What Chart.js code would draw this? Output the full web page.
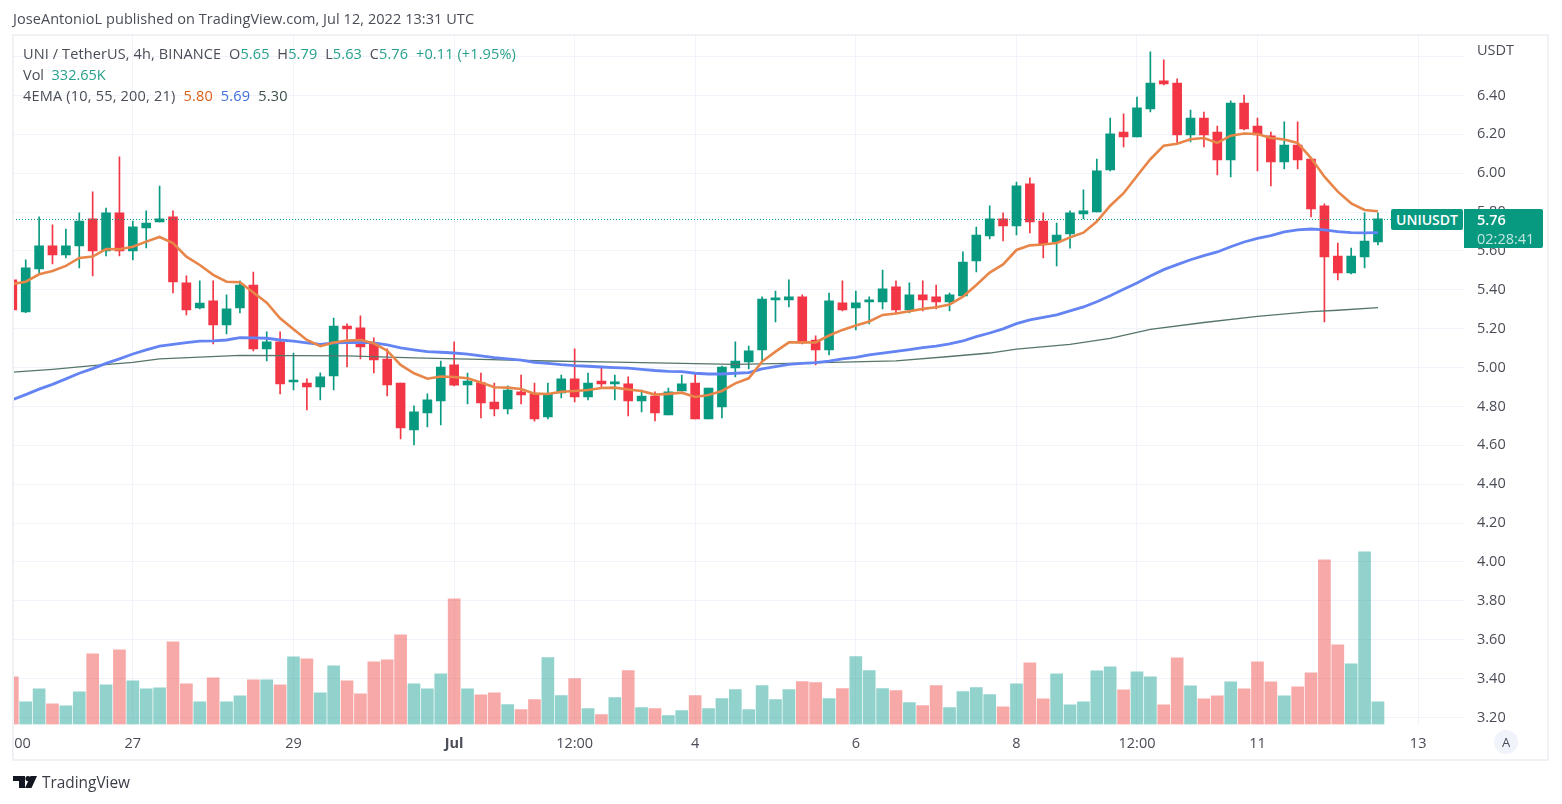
<!DOCTYPE html>
<html>
<head>
<meta charset="utf-8">
<title>UNI / TetherUS</title>
<script src="https://cdn.jsdelivr.net/npm/chart.js@4"></script>
<style>
    html, body { margin: 0; padding: 0; background: #fff; }
    #page { position: relative; width: 1562px; height: 804px; overflow: hidden; font-family: "Open Sans", sans-serif; color: #4a4d57; }
    canvas { position: absolute; left: 0; top: 0; }
    #frame { position: absolute; left: 12px; top: 34px; width: 1533px; height: 723px; border: 2px solid #f0f1f4; }
    #mask { position: absolute; left: 0; top: 730px; width: 14px; height: 26px; background: #fff; }
    .txt { position: absolute; white-space: pre; font-size: 14.5px; line-height: 18px; }
    .up { color: #26a08c; }
    #published { left: 13px; top: 10px; letter-spacing: 0.06px; }
    #ohlc { left: 23px; top: 45px; letter-spacing: 0.12px; }
    #vol { left: 23px; top: 66px; }
    #ema { left: 23px; top: 87px; letter-spacing: 0.2px; }
    #unit { left: 1477px; top: 41px; }
    #badge { position: absolute; left: 1391px; top: 209px; width: 72px; height: 21px; background: #089981; color: #fff; border-radius: 2px; text-align: center; font-size: 14px; line-height: 21px; font-weight: 600; }
    #priceBox { position: absolute; left: 1464px; top: 209px; width: 79px; height: 39px; background: #089981; border-radius: 0 2px 2px 0; color: #fff; }
    #priceBox div { padding-left: 13px; font-size: 14.5px; line-height: 21px; font-weight: 600; }
    #priceBox .count { color: #c2e6e0; line-height: 17px; font-weight: 400; }
    #auto { position: absolute; left: 1494px; top: 730px; width: 24px; height: 24px; border-radius: 12px; background: #f0f3fa; text-align: center; font-size: 13px; line-height: 24px; }
    #logo { position: absolute; left: 13px; top: 776px; }
    #brand { left: 42px; top: 774px; font-size: 15.4px; color: #3b3e47; }
</style>
</head>
<body>
<div id="page">
    <canvas id="chart" width="1562" height="804"></canvas>
    <div id="mask"></div>
    <div id="frame"></div>
    <div class="txt" id="published">JoseAntonioL published on TradingView.com, Jul 12, 2022 13:31 UTC</div>
    <div class="txt" id="ohlc">UNI / TetherUS, 4h, BINANCE  O<span class="up">5.65</span>  H<span class="up">5.79</span>  L<span class="up">5.63</span>  C<span class="up">5.76</span>  <span class="up">+0.11 (+1.95%)</span></div>
    <div class="txt" id="vol">Vol  <span class="up">332.65K</span></div>
    <div class="txt" id="ema">4EMA (10, 55, 200, 21)  <span style="color:#e0601c">5.80</span>  <span style="color:#3f6fdc">5.69</span>  <span style="color:#3d4f4a">5.30</span></div>
    <div class="txt" id="unit">USDT</div>
    <div id="badge">UNIUSDT</div>
    <div id="priceBox"><div>5.76</div><div class="count">02:28:41</div></div>
    <div id="auto">A</div>
    <svg id="logo" width="24" height="12" viewBox="0 0 24 12"><path d="M0 0h12v12H6V5H0z M24 0 18.5 12H12L17.5 0z" fill="#131722"/><circle cx="15" cy="2.6" r="2.6" fill="#131722"/></svg>
    <div class="txt" id="brand">TradingView</div>
</div>

<script>
"use strict";

var opens = [5.451, 5.286, 5.508, 5.626, 5.580, 5.626, 5.765, 5.600, 5.796, 5.600, 5.718, 5.749, 5.775, 5.436, 5.307, 5.343, 5.219, 5.307, 5.425, 5.096, 5.132, 4.926, 4.921, 4.901, 4.957,
    5.214, 5.204, 5.122, 5.044, 4.921, 4.679, 4.767, 4.828, 5.014, 4.911, 4.923, 4.823, 4.787, 4.875, 4.865, 4.746, 4.870, 4.942, 4.849, 4.931, 4.916, 4.916, 4.828, 4.854, 4.756, 4.880,
    4.921, 4.736, 4.798, 4.998, 5.029, 5.091, 5.348, 5.348, 5.364, 5.142, 5.091, 5.333, 5.307, 5.338, 5.338, 5.415, 5.297, 5.374, 5.364, 5.338, 5.369, 5.549, 5.677, 5.765, 5.729,
    5.945, 5.754, 5.646, 5.688, 5.790, 5.801, 6.017, 6.212, 6.187, 6.331, 6.475, 6.464, 6.197, 6.284, 6.212, 6.068, 6.361, 6.243, 6.192, 6.058, 6.145, 6.073, 5.832, 5.574, 5.487, 5.569, 5.646];
var highs = [5.460, 5.554, 5.775, 5.734, 5.713, 5.796, 5.904, 5.821, 6.084, 5.754, 5.806, 5.934, 5.806, 5.472, 5.446, 5.446, 5.374, 5.446, 5.492, 5.184, 5.184, 5.075, 4.942, 4.973, 5.255,
    5.225, 5.266, 5.153, 5.096, 4.921, 4.803, 4.865, 5.034, 5.132, 4.972, 4.972, 4.921, 4.906, 4.962, 4.921, 4.921, 4.962, 5.096, 4.972, 5.003, 4.962, 4.952, 4.885, 4.875, 4.895, 4.962,
    4.972, 4.895, 5.008, 5.132, 5.111, 5.364, 5.394, 5.451, 5.374, 5.163, 5.384, 5.446, 5.394, 5.364, 5.502, 5.446, 5.436, 5.446, 5.425, 5.384, 5.595, 5.723, 5.832, 5.796, 5.955,
    5.976, 5.796, 5.744, 5.806, 5.914, 6.073, 6.284, 6.305, 6.392, 6.624, 6.583, 6.485, 6.325, 6.315, 6.243, 6.372, 6.402, 6.284, 6.212, 6.264, 6.264, 6.073, 5.842, 5.641, 5.615, 5.796, 5.796];
var lows = [5.290, 5.283, 5.482, 5.533, 5.564, 5.513, 5.472, 5.574, 5.574, 5.554, 5.616, 5.749, 5.384, 5.271, 5.302, 5.122, 5.173, 5.281, 5.086, 5.034, 4.865, 4.885, 4.782, 4.834, 4.885,
    5.003, 5.045, 4.972, 4.854, 4.633, 4.602, 4.695, 4.705, 4.906, 4.813, 4.741, 4.751, 4.762, 4.813, 4.725, 4.736, 4.844, 4.823, 4.834, 4.895, 4.834, 4.751, 4.772, 4.726, 4.756, 4.880,
    4.736, 4.736, 4.741, 4.952, 4.993, 5.034, 5.235, 5.312, 5.122, 5.014, 5.065, 5.291, 5.194, 5.225, 5.302, 5.281, 5.281, 5.291, 5.302, 5.291, 5.369, 5.492, 5.662, 5.652, 5.682,
    5.693, 5.564, 5.523, 5.615, 5.765, 5.801, 6.012, 6.135, 6.187, 6.315, 6.454, 6.156, 6.161, 6.135, 5.991, 5.981, 6.223, 6.012, 5.934, 6.022, 6.022, 5.775, 5.235, 5.451, 5.482, 5.513, 5.631];
var closes = [5.297, 5.513, 5.626, 5.580, 5.626, 5.754, 5.600, 5.796, 5.600, 5.724, 5.744, 5.765, 5.441, 5.297, 5.332, 5.219, 5.302, 5.425, 5.096, 5.132, 4.916, 4.931, 4.901, 4.952, 5.214,
    5.199, 5.106, 5.039, 4.911, 4.690, 4.772, 4.834, 5.003, 4.909, 4.931, 4.818, 4.787, 4.885, 4.859, 4.736, 4.865, 4.942, 4.849, 4.921, 4.916, 4.921, 4.828, 4.854, 4.767, 4.875, 4.916,
    4.736, 4.895, 5.003, 5.034, 5.086, 5.353, 5.357, 5.364, 5.127, 5.091, 5.343, 5.297, 5.333, 5.343, 5.405, 5.297, 5.374, 5.348, 5.338, 5.374, 5.543, 5.682, 5.765, 5.729, 5.935,
    5.749, 5.636, 5.682, 5.796, 5.806, 6.012, 6.202, 6.187, 6.336, 6.464, 6.459, 6.197, 6.284, 6.197, 6.068, 6.361, 6.228, 6.197, 6.058, 6.145, 6.068, 5.816, 5.569, 5.487, 5.574, 5.651, 5.765];

// volume in thousands
var volumes = [699, 333, 523, 303, 274, 479, 1037, 582, 1095, 641, 523, 538, 1213, 597, 333, 685, 333, 421, 655, 655, 582, 993, 963, 465, 861,
    641, 450, 919, 949, 1315, 597, 523, 743, 1844, 523, 435, 465, 293, 220, 367, 983, 425, 675, 235, 147, 396, 792, 249, 235, 132, 205,
    425, 235, 381, 513, 220, 572, 367, 513, 631, 616, 381, 528, 998, 792, 528, 499, 323, 279, 572, 249, 484, 543, 440, 259, 597,
    905, 377, 743, 289, 333, 787, 846, 509, 773, 699, 289, 978, 567, 377, 421, 626, 523, 919, 626, 421, 553, 758, 2416, 1169, 890, 2533, 333];

var emaFast = [5.430, 5.442, 5.480, 5.497, 5.523, 5.564, 5.571, 5.610, 5.609, 5.622, 5.648, 5.672, 5.640, 5.571, 5.528, 5.477, 5.442, 5.439, 5.386, 5.334, 5.254, 5.197, 5.142, 5.110, 5.129,
    5.139, 5.142, 5.125, 5.087, 5.014, 4.971, 4.943, 4.954, 4.952, 4.945, 4.923, 4.899, 4.897, 4.890, 4.866, 4.864, 4.876, 4.880, 4.885, 4.895, 4.897, 4.887, 4.880, 4.861, 4.865, 4.871,
    4.849, 4.859, 4.880, 4.919, 4.945, 5.031, 5.082, 5.130, 5.130, 5.129, 5.165, 5.194, 5.216, 5.237, 5.271, 5.278, 5.290, 5.302, 5.310, 5.324, 5.365, 5.425, 5.489, 5.531, 5.605,
    5.629, 5.633, 5.641, 5.670, 5.694, 5.751, 5.833, 5.897, 5.986, 6.072, 6.142, 6.152, 6.175, 6.181, 6.156, 6.193, 6.204, 6.202, 6.181, 6.173, 6.156, 6.078, 5.982, 5.905, 5.845, 5.811, 5.804];
var emaMid = [4.834, 4.861, 4.889, 4.914, 4.942, 4.971, 4.995, 5.022, 5.045, 5.070, 5.091, 5.110, 5.120, 5.129, 5.136, 5.137, 5.142, 5.154, 5.153, 5.151, 5.142, 5.136, 5.127, 5.120, 5.127,
    5.129, 5.130, 5.127, 5.117, 5.101, 5.091, 5.082, 5.079, 5.075, 5.069, 5.060, 5.051, 5.045, 5.039, 5.027, 5.022, 5.015, 5.010, 5.007, 5.003, 5.000, 4.997, 4.991, 4.985, 4.981, 4.979,
    4.971, 4.967, 4.967, 4.971, 4.974, 4.993, 5.005, 5.017, 5.022, 5.026, 5.033, 5.045, 5.053, 5.065, 5.075, 5.084, 5.093, 5.103, 5.111, 5.122, 5.137, 5.159, 5.178, 5.199, 5.226,
    5.245, 5.259, 5.271, 5.292, 5.312, 5.339, 5.370, 5.403, 5.435, 5.471, 5.504, 5.530, 5.555, 5.576, 5.595, 5.622, 5.646, 5.665, 5.679, 5.698, 5.708, 5.713, 5.708, 5.700, 5.694, 5.693, 5.694];

var emaSlowAt = [0, 3, 6, 9, 11, 14, 17, 21, 25, 30, 35, 40, 45, 50, 54, 58, 62, 66, 70, 73, 75, 79, 82, 85, 89, 93, 97, 99, 102];
var emaSlow = [4.976, 4.991, 5.010, 5.027, 5.045, 5.054, 5.063, 5.062, 5.060, 5.050, 5.042, 5.034, 5.028, 5.022, 5.017, 5.022, 5.028, 5.035, 5.057, 5.075, 5.095, 5.120, 5.150, 5.197, 5.232, 5.264, 5.288, 5.295, 5.309];

var lastPrice = 5.762;
var priceTicks = [3.2, 3.4, 3.6, 3.8, 4.0, 4.2, 4.4, 4.6, 4.8, 5.0, 5.2, 5.4, 5.6, 5.8, 6.0, 6.2, 6.4, 6.6];
var timeTicks = [0, 9, 21, 33, 42, 51, 63, 75, 84, 93, 105];
var timeLabels = ["12:00", "27", "29", "Jul", "12:00", "4", "6", "8", "12:00", "11", "13"];

var GREEN = "#089981";
var RED = "#F23645";
var VOL_GREEN = "rgba(38,166,154,0.5)";
var VOL_RED = "rgba(239,83,80,0.5)";
var GRID = "#f0f3fa";
var TEXT = "#4a4d57";

var xMin = 0.05;
var xMax = 108.5;

function isUp(i) {
    return closes[i] >= opens[i];
}

function candleColors(up, down) {
    return opens.map(function (o, i) {
        return isUp(i) ? up : down;
    });
}

function lineData(values) {
    return values.map(function (v, i) {
        return {x: i, y: v};
    });
}

function noPadding(scale) {
    scale.paddingLeft = scale.paddingRight = scale.paddingTop = scale.paddingBottom = 0;
}

new Chart(document.getElementById("chart"), {
    type: "bar",
    data: {
        datasets: [{
            label: "Vol",
            yAxisID: "yVol",
            data: lineData(volumes),
            backgroundColor: candleColors(VOL_GREEN, VOL_RED),
            barThickness: 12,
            grouped: false,
            order: 7,
        }, {
            label: "Wicks",
            data: highs.map(function (h, i) {
                return {x: i, y: [lows[i], h]};
            }),
            backgroundColor: candleColors(GREEN, RED),
            barThickness: 1,
            grouped: false,
            order: 6,
        }, {
            label: "Bodies",
            data: opens.map(function (o, i) {
                return {x: i, y: [o, closes[i]]};
            }),
            backgroundColor: candleColors(GREEN, RED),
            barThickness: 9,
            minBarLength: 2,
            grouped: false,
            order: 5,
        }, {
            type: "line",
            label: "EMA 200",
            data: emaSlowAt.map(function (at, i) {
                return {x: at, y: emaSlow[i]};
            }),
            borderColor: "#56756b",
            borderWidth: 1.3,
            pointRadius: 0,
            order: 4,
        }, {
            type: "line",
            label: "EMA 55",
            data: lineData(emaMid),
            borderColor: "#6384f2",
            borderWidth: 2.8,
            pointRadius: 0,
            order: 3,
        }, {
            type: "line",
            label: "EMA 10",
            data: lineData(emaFast),
            borderColor: "#e8864a",
            borderWidth: 2.6,
            pointRadius: 0,
            order: 2,
        }, {
            type: "line",
            label: "Last price",
            data: [{x: xMin, y: lastPrice}, {x: xMax, y: lastPrice}],
            borderColor: GREEN,
            borderWidth: 1,
            borderDash: [1, 2],
            pointRadius: 0,
            order: 1,
        }],
    },
    options: {
        responsive: false,
        animation: false,
        layout: {
            padding: {left: 13, top: 35, right: 14, bottom: 44},
        },
        plugins: {
            legend: {display: false},
            tooltip: {enabled: false},
        },
        scales: {
            x: {
                type: "linear",
                min: xMin,
                max: xMax,
                offset: false,
                border: {display: false},
                grid: {color: GRID, offset: false, drawTicks: false},
                afterBuildTicks: function (scale) {
                    scale.ticks = timeTicks.map(function (v) {
                        return {value: v};
                    });
                },
                afterFit: function (scale) {
                    noPadding(scale);
                    scale.height = 35.5;
                },
                ticks: {
                    autoSkip: false,
                    maxRotation: 0,
                    padding: 11,
                    color: TEXT,
                    font: function (ctx) {
                        var bold = ctx.tick && ctx.index === timeLabels.indexOf("Jul");
                        return {family: "Open Sans", size: 14.5, weight: bold ? "bold" : "normal"};
                    },
                    callback: function (value, index) {
                        return timeLabels[index];
                    },
                },
            },
            y: {
                position: "right",
                min: 3.164,
                max: 6.711,
                border: {display: false},
                grid: {color: GRID, drawTicks: false},
                afterBuildTicks: function (scale) {
                    scale.ticks = priceTicks.map(function (v) {
                        return {value: v};
                    });
                },
                afterFit: function (scale) {
                    noPadding(scale);
                    scale.width = 83;
                },
                ticks: {
                    padding: 12,
                    color: TEXT,
                    font: {family: "Open Sans", size: 14.5},
                    callback: function (value) {
                        return value > 6.5 ? "" : value.toFixed(2);
                    },
                },
            },
            yVol: {
                display: false,
                position: "right",
                min: 0,
                max: 10115,
            },
        },
    },
});
</script>
</body>
</html>
